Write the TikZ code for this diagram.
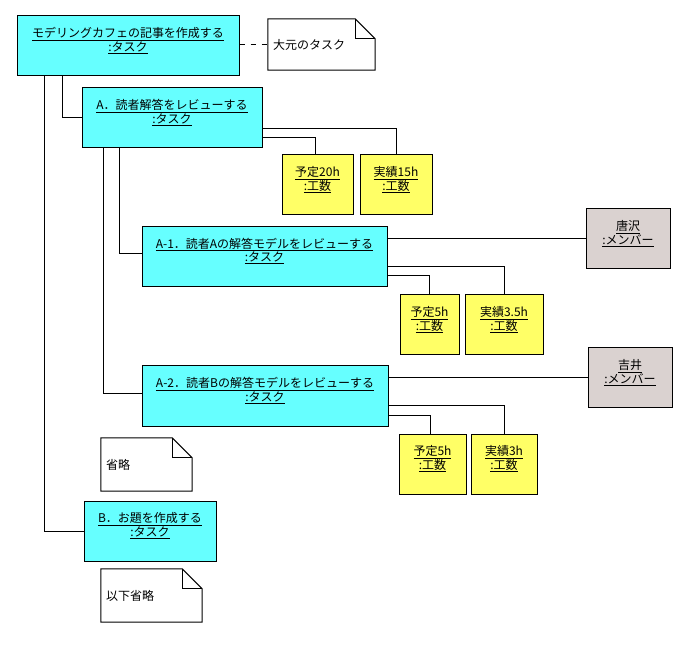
\documentclass[tikz,border=0pt]{standalone}
\usepackage{fontspec}
\setmainfont{Noto Sans CJK JP}
\definecolor{taskcyan}{RGB}{102,255,255}
\definecolor{kosuyellow}{RGB}{255,255,102}
\definecolor{membergray}{RGB}{218,210,208}
\tikzset{
  obj/.style={draw, line width=1pt, align=center, minimum height=60pt, inner sep=0pt, font=\fontsize{12}{13.5}\selectfont},
  task/.style={obj, fill=taskcyan},
  kosu/.style={obj, fill=kosuyellow},
  member/.style={obj, fill=membergray},
  memo/.style={minimum height=53pt, inner xsep=5pt, inner ysep=0pt, align=left, font=\fontsize{12}{13.5}\selectfont},
  link/.style={line width=1pt},
}
\begin{document}
\begin{tikzpicture}[x=1pt, y=-1pt]
    \useasboundingbox (0,0) rectangle (697,647);

    \node[task, minimum width=222pt] (task0) at (128,46) {\underline{モデリングカフェの記事を作成する}\\\underline{:タスク}\\[-4pt]\strut};
    \node[task, minimum width=180pt] (taskA) at (172,118) {\underline{A．読者解答をレビューする}\\\underline{:タスク}\\[-4pt]\strut};
    \node[task, minimum width=245pt] (taskA1) at (264.5,256.5) {\underline{A-1．読者Aの解答モデルをレビューする}\\\underline{:タスク}\\[-4pt]\strut};
    \node[task, minimum width=246pt] (taskA2) at (265,396) {\underline{A-2．読者Bの解答モデルをレビューする}\\\underline{:タスク}\\[-4pt]\strut};
    \node[task, minimum width=132pt] (taskB) at (150,531) {\underline{B．お題を作成する}\\\underline{:タスク}\\[-4pt]\strut};

    \node[kosu, minimum width=71pt] (yotei20) at (317.5,185) {\underline{予定20h}\\\underline{:工数}\\[-4pt]\strut};
    \node[kosu, minimum width=72pt] (jisseki15) at (396,185) {\underline{実績15h}\\\underline{:工数}\\[-4pt]\strut};
    \node[kosu, minimum width=59pt] (yotei5a) at (429.5,325) {\underline{予定5h}\\\underline{:工数}\\[-4pt]\strut};
    \node[kosu, minimum width=78pt] (jisseki35) at (504,325) {\underline{実績3.5h}\\\underline{:工数}\\[-4pt]\strut};
    \node[kosu, minimum width=67pt] (yotei5b) at (432.5,464) {\underline{予定5h}\\\underline{:工数}\\[-4pt]\strut};
    \node[kosu, minimum width=66pt] (jisseki3) at (504,464) {\underline{実績3h}\\\underline{:工数}\\[-4pt]\strut};

    \node[member, minimum width=84pt] (karasawa) at (628,239) {\underline{唐沢}\\\underline{:メンバー}\\[-4pt]\strut};
    \node[member, minimum width=84pt] (yoshii) at (630,378) {\underline{吉井}\\\underline{:メンバー}\\[-4pt]\strut};

    \node[memo, minimum height=51pt, text width=97pt] (note0) at (321.5,44.5) {大元のタスク};
    \node[memo, text width=81pt] (note1) at (146.5,464.5) {省略};
    \node[memo, text width=91pt] (note2) at (151.5,595.5) {以下省略};

    \foreach \n in {note0,note1,note2} {
        \draw[link] (\n.north west) -- ([xshift=-20pt]\n.north east) -- ([yshift=-20pt]\n.north east) -- (\n.south east) -- (\n.south west) -- cycle;
        \draw[link] ([xshift=-20pt]\n.north east) |- ([yshift=-20pt]\n.north east);
    }

    \draw[link, dash pattern=on 5pt off 6pt] (note0.west -| task0.east) -- (note0.west);

    \draw[link] ([xshift=46pt]task0.south west) |- (taskA.west);
    \draw[link] ([xshift=28pt]task0.south west) |- (taskB.west);
    \draw[link] ([xshift=38pt]taskA.south west) |- ([yshift=2.5pt]taskA1.west);
    \draw[link] ([xshift=22pt]taskA.south west) |- ([yshift=2pt]taskA2.west);

    \draw[link] ([yshift=-11pt]taskA.east) -| (jisseki15.north);
    \draw[link] ([yshift=-20pt]taskA.east) -| ([xshift=-2.5pt]yotei20.north);

    \draw[link] (karasawa.west -| taskA1.east) -- (karasawa.west);
    \draw[link] ([yshift=-10.5pt]taskA1.east) -| (jisseki35.north);
    \draw[link] ([yshift=-19.5pt]taskA1.east) -| (yotei5a.north);

    \draw[link] (yoshii.west -| taskA2.east) -- (yoshii.west);
    \draw[link] ([yshift=-10pt]taskA2.east) -| (jisseki3.north);
    \draw[link] ([yshift=-20pt]taskA2.east) -| ([xshift=-2.5pt]yotei5b.north);
\end{tikzpicture}
\end{document}
